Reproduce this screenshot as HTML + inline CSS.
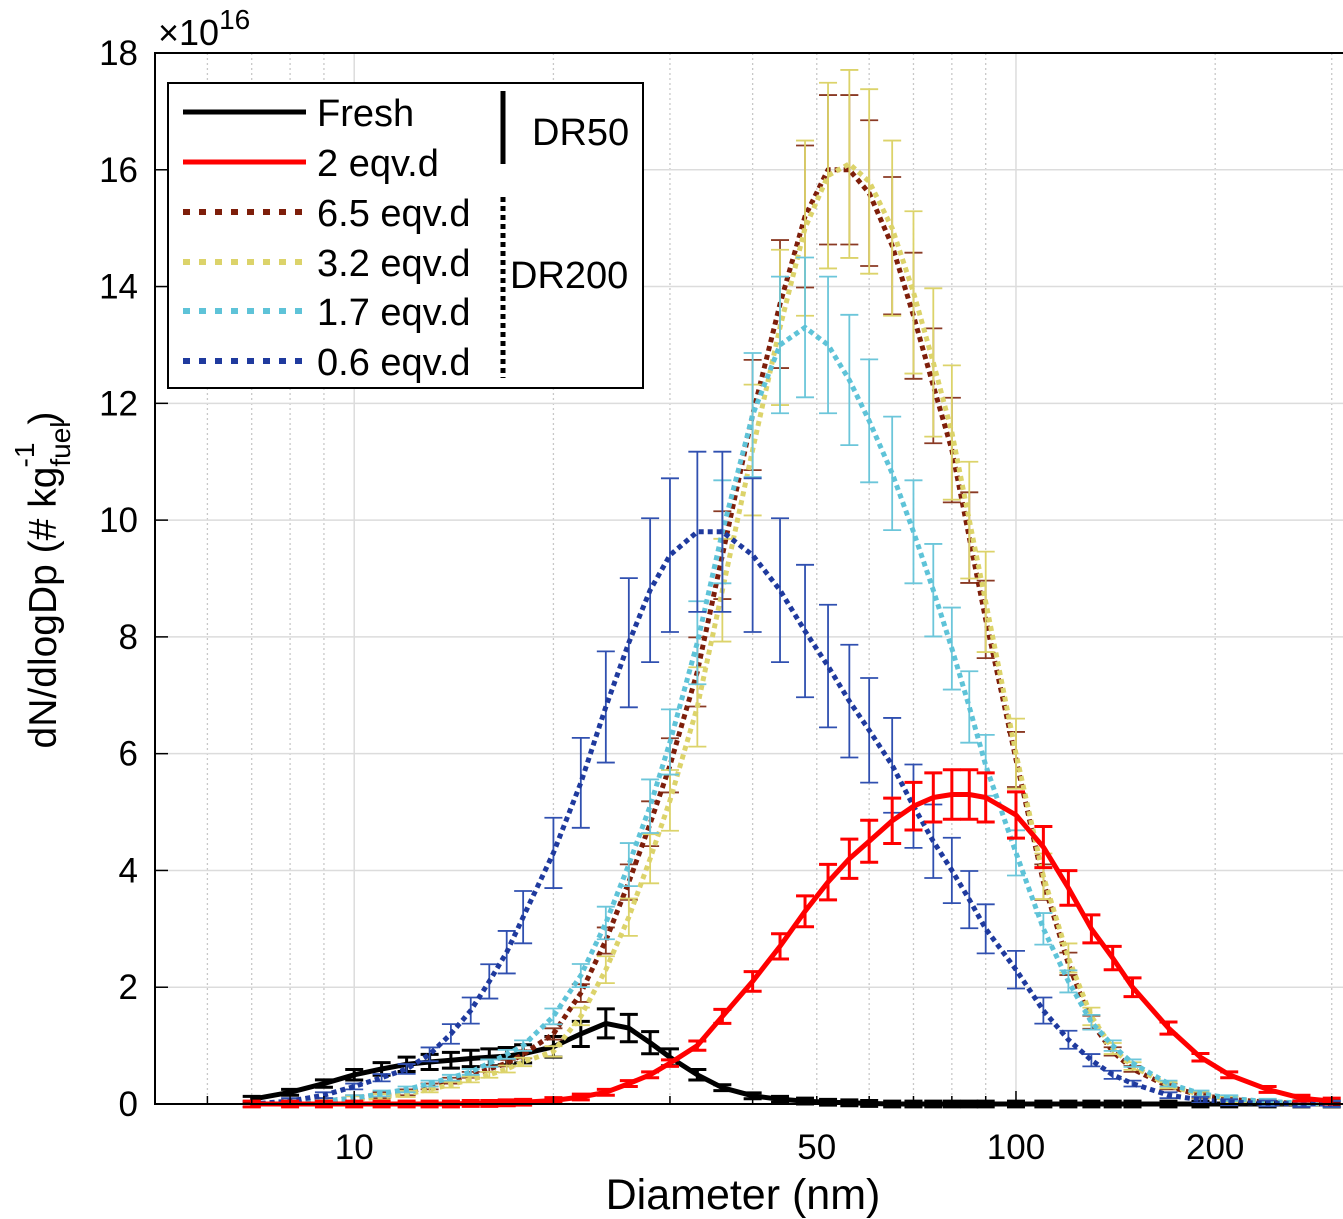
<!DOCTYPE html>
<html><head><meta charset="utf-8"><style>
html,body{margin:0;padding:0;background:#fff;}
svg{display:block;font-family:"Liberation Sans",Arial,sans-serif;}
</style></head><body>
<svg id="chart" width="1343" height="1219" viewBox="0 0 1343 1219">
<rect x="0" y="0" width="1343" height="1219" fill="#fff"/>
<g id="grid"></g>
<g id="series"></g>
<g id="axes"></g>
<g id="legend">
  <rect x="168" y="83" width="475" height="305" fill="#fff" stroke="#000" stroke-width="2"/>
  <line x1="183" y1="112" x2="306" y2="112" stroke="#000" stroke-width="5"/>
  <text x="317" y="126" font-size="38">Fresh</text>
  <line x1="183" y1="162" x2="306" y2="162" stroke="#ff0000" stroke-width="5"/>
  <text x="317" y="176" font-size="38">2 eqv.d</text>
  <line x1="183" y1="212" x2="303" y2="212" stroke="#7e1e0a" stroke-width="6" stroke-dasharray="7 9"/>
  <text x="317" y="226" font-size="38">6.5 eqv.d</text>
  <line x1="183" y1="262" x2="303" y2="262" stroke="#dcd36a" stroke-width="6" stroke-dasharray="7 9"/>
  <text x="317" y="276" font-size="38">3.2 eqv.d</text>
  <line x1="183" y1="311" x2="303" y2="311" stroke="#5ec3d8" stroke-width="6" stroke-dasharray="7 9"/>
  <text x="317" y="325" font-size="38">1.7 eqv.d</text>
  <line x1="183" y1="361" x2="303" y2="361" stroke="#1f3a9e" stroke-width="6" stroke-dasharray="7 9"/>
  <text x="317" y="375" font-size="38">0.6 eqv.d</text>
  <line x1="503" y1="91" x2="503" y2="164" stroke="#000" stroke-width="5"/>
  <text x="532" y="145" font-size="38">DR50</text>
  <line x1="503" y1="197" x2="503" y2="378" stroke="#000" stroke-width="5" stroke-dasharray="5 4"/>
  <text x="510" y="288" font-size="38">DR200</text>
</g>
</svg>
<script>
const diam=[7,8,9,10,11,12,13,14,15,16,17,18,20,22,24,26,28,30,33,36,40,44,48,52,56,60,65,70,75,80,85,90,100,110,120,130,140,150,170,190,210,240,270,300];
const fresh=[0.08,0.2,0.35,0.5,0.6,0.68,0.72,0.75,0.78,0.8,0.82,0.86,0.98,1.2,1.38,1.3,1.05,0.8,0.5,0.28,0.14,0.08,0.05,0.03,0.02,0.01,0,0,0,0,0,0,0,0,0,0,0,0,0,0,0,0,0,0];
const eq2=[0,0,0,0,0,0,0,0,0.01,0.01,0.02,0.03,0.06,0.12,0.2,0.35,0.5,0.7,1.0,1.5,2.1,2.7,3.3,3.8,4.2,4.5,4.85,5.1,5.25,5.3,5.3,5.25,4.95,4.4,3.7,3.0,2.5,2.0,1.3,0.8,0.5,0.25,0.1,0.05];
const eq65=[0,0.02,0.05,0.1,0.15,0.2,0.3,0.4,0.5,0.6,0.7,0.85,1.2,1.9,2.8,3.8,4.8,5.8,7.4,9.4,11.8,13.7,15.2,16.0,16.0,15.6,14.7,13.5,12.3,11.2,9.7,8.3,5.9,3.8,2.4,1.4,0.9,0.6,0.3,0.15,0.08,0.03,0.01,0];
const eq32=[0,0.02,0.04,0.08,0.12,0.17,0.25,0.33,0.42,0.5,0.6,0.72,0.9,1.5,2.3,3.2,4.2,5.2,6.8,8.8,11.2,13.3,15.0,15.9,16.1,15.8,15.0,13.9,12.7,11.5,10.0,8.6,6.0,3.9,2.5,1.5,0.95,0.65,0.32,0.16,0.08,0.03,0.01,0];
const eq17=[0,0.02,0.05,0.1,0.18,0.25,0.35,0.45,0.55,0.7,0.85,1.0,1.5,2.2,3.1,4.1,5.1,6.2,7.9,9.8,11.8,13.0,13.3,13.0,12.4,11.7,10.8,9.8,8.8,7.8,6.8,5.8,4.3,3.0,2.1,1.4,1.0,0.7,0.35,0.18,0.1,0.04,0.02,0];
const eq06=[0,0.05,0.15,0.3,0.45,0.6,0.85,1.2,1.6,2.1,2.6,3.2,4.3,5.5,6.8,7.9,8.8,9.4,9.8,9.8,9.4,8.8,8.1,7.5,6.9,6.4,5.8,5.1,4.5,4.0,3.5,3.0,2.3,1.6,1.1,0.75,0.5,0.35,0.15,0.07,0.03,0.01,0,0];
const relErr=[0.18,0.08,0.08,0.1,0.09,0.14];
const yTicks=[0,2,4,6,8,10,12,14,16,18];
const xTickVals=[10,50,100,200];
const NS="http://www.w3.org/2000/svg";
const X0=155,X1=1343,Y0=1104,Y1=53;
const lmin=Math.log10(5),lmax=Math.log10(312);
function xs(d){return X0+(Math.log10(d)-lmin)/(lmax-lmin)*(X1-X0);}
function ys(v){return Y0-(v/18)*(Y0-Y1);}
function mk(tag,attrs,parent){const e=document.createElementNS(NS,tag);for(const k in attrs)e.setAttribute(k,attrs[k]);parent.appendChild(e);return e;}
const grid=document.getElementById('grid'),axes=document.getElementById('axes'),ser=document.getElementById('series');
const minor=[6,7,8,9,20,30,40,50,60,70,80,90,200,300];
minor.forEach(d=>{const l=mk('line',{x1:xs(d),x2:xs(d),y1:Y1,y2:Y0,stroke:'#c8c8c8','stroke-width':1.3,'stroke-dasharray':'2 3'},grid);


const t=mk('line',{x1:xs(d),x2:xs(d),y1:Y0,y2:Y0-8,stroke:'#000','stroke-width':1.5},axes);

});
[10,100].forEach(d=>{const l=mk('line',{x1:xs(d),x2:xs(d),y1:Y1,y2:Y0,stroke:'#dcdcdc','stroke-width':1.5},grid);


const t=mk('line',{x1:xs(d),x2:xs(d),y1:Y0,y2:Y0-13,stroke:'#000','stroke-width':1.5},axes);

});
yTicks.forEach(v=>{const y=ys(v);
if(v>0&&v<18){const l=mk('line',{x1:X0,x2:X1,y1:y,y2:y,stroke:'#dcdcdc','stroke-width':1.5},grid);

}
const tk=mk('line',{x1:X0,x2:X0+13,y1:y,y2:y,stroke:'#000','stroke-width':1.5},axes);


const t=mk('text',{x:138,y:y+12,'font-size':35,'text-anchor':'end'},axes);t.textContent=v;

});
xTickVals.forEach(d=>{const t=mk('text',{x:xs(d),y:1159,'font-size':35,'text-anchor':'middle'},axes);t.textContent=d;

});
const frame=mk('path',{d:`M${X1} ${Y1}H${X0}V${Y0}H${X1}`,fill:'none',stroke:'#000','stroke-width':2},axes);


const xl=mk('text',{x:743,y:1209,'font-size':43,'text-anchor':'middle'},axes);xl.textContent='Diameter (nm)';


const yl=mk('text',{x:0,y:0,'font-size':39,'text-anchor':'middle',transform:'translate(56,580) rotate(-90)'},axes);
yl.innerHTML='dN/dlogDp (# kg<tspan font-size="28" dy="14">fuel</tspan><tspan font-size="28" dx="-46" dy="-36">-1</tspan><tspan dy="22" dx="18">)</tspan>';


const ex=mk('text',{x:158,y:45,'font-size':36},axes);ex.innerHTML='×10<tspan font-size="28" dy="-16">16</tspan>';


const seriesList=[
 {n:'fresh',v:fresh,c:'#000000',dash:null,ec:'#000000'},
 {n:'eq-6.5',v:eq65,c:'#7e1e0a',dash:'5 4',ec:'#8a3a24'},
 {n:'eq-3.2',v:eq32,c:'#dcd36a',dash:'5 4',ec:'#dcd36a'},
 {n:'eq-1.7',v:eq17,c:'#5ec3d8',dash:'5 4',ec:'#6cc6da'},
 {n:'eq-0.6',v:eq06,c:'#1f3a9e',dash:'5 4',ec:'#3050b0'},
 {n:'eq-2',v:eq2,c:'#ff0000',dash:null,ec:'#ff0000'}];
const errIdx={'fresh':0,'eq-2':1,'eq-6.5':2,'eq-3.2':3,'eq-1.7':4,'eq-0.6':5};
seriesList.forEach(s=>{
 const g=mk('g',{},ser);
 
 
 const re=relErr[errIdx[s.n]];
 diam.forEach((d,i)=>{const v=s.v[i];const e=Math.max(v*re,0.05);const x=xs(d);
  const b=mk('path',{d:`M${x} ${ys(v-e)}V${ys(v+e)}M${x-9} ${ys(v-e)}h18M${x-9} ${ys(v+e)}h18`,stroke:s.ec,'stroke-width':s.dash?1.8:3,fill:'none'},g);
  
  });
 const p=mk('path',{d:diam.map((d,i)=>(i?'L':'M')+xs(d).toFixed(1)+' '+ys(s.v[i]).toFixed(1)).join(''),fill:'none',stroke:s.c,'stroke-width':5,'stroke-linejoin':'round'},g);
 if(s.dash)p.setAttribute('stroke-dasharray',s.dash);
 
 
});
</script>
</body></html>
